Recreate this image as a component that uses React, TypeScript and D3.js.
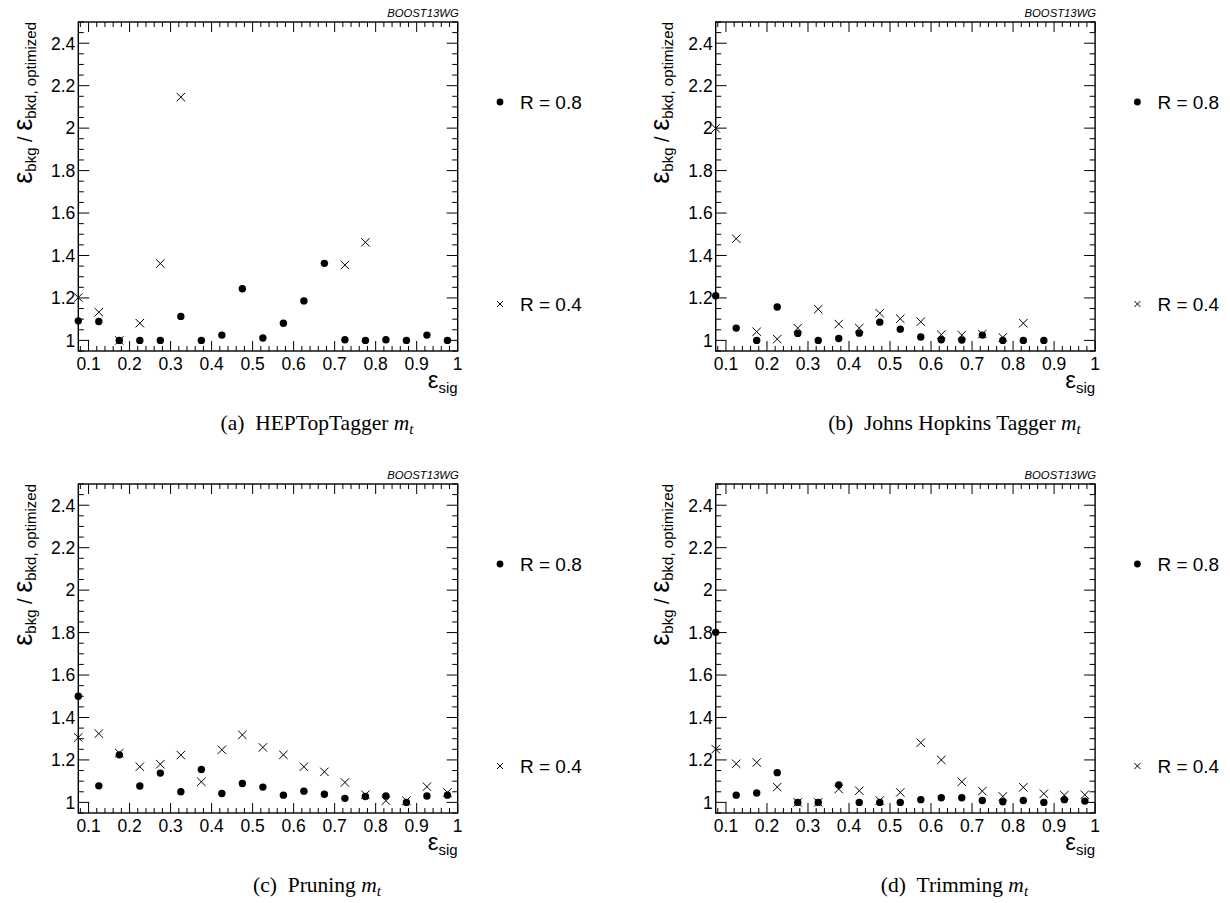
import React from 'react';
import * as d3 from 'd3';

// ---------- data ----------
const effSig = [0.075, 0.125, 0.175, 0.225, 0.275, 0.325, 0.375, 0.425, 0.475, 0.525,
  0.575, 0.625, 0.675, 0.725, 0.775, 0.825, 0.875, 0.925, 0.975];

const hepR08 = [1.092, 1.089, 1.0, 1.0, 1.0, 1.113, 1.0, 1.025, 1.243, 1.011,
  1.081, 1.186, 1.363, 1.003, 1.0, 1.003, 1.0, 1.025, 1.0];
const hepR04 = [1.202, 1.133, 1.0, 1.081, 1.362, 2.146, null, null, null, null,
  null, null, null, 1.355, 1.462, null, null, null, null];

const jhR08 = [1.21, 1.058, 1.0, 1.157, 1.033, 1.0, 1.009, 1.034, 1.086, 1.053,
  1.016, 1.003, 1.002, 1.025, 1.0, 1.0, 1.0, null, null];
const jhR04 = [1.999, 1.479, 1.041, 1.006, 1.058, 1.147, 1.077, 1.058, 1.128, 1.102,
  1.088, 1.027, 1.025, 1.03, 1.014, 1.081, null, null, null];

const pruneR08 = [1.5, 1.078, 1.224, 1.077, 1.138, 1.05, 1.155, 1.042, 1.089, 1.072,
  1.034, 1.053, 1.038, 1.019, 1.028, 1.03, 1.0, 1.03, 1.034];
const pruneR04 = [1.306, 1.324, 1.232, 1.168, 1.18, 1.223, 1.097, 1.248, 1.318, 1.259,
  1.224, 1.168, 1.144, 1.094, 1.036, 1.008, 1.008, 1.074, 1.047];

const trimR08 = [1.801, 1.034, 1.044, 1.14, 1.0, 1.0, 1.082, 1.0, 1.0, 1.0,
  1.013, 1.022, 1.022, 1.009, 1.003, 1.009, 1.0, 1.013, 1.006];
const trimR04 = [1.251, 1.182, 1.188, 1.072, 1.0, 1.0, 1.063, 1.055, 1.009, 1.047,
  1.281, 1.2, 1.097, 1.053, 1.028, 1.071, 1.041, 1.034, 1.036];

const xTicks = [0.1, 0.2, 0.3, 0.4, 0.5, 0.6, 0.7, 0.8, 0.9, 1.0];
const xTickLabels = ['0.1', '0.2', '0.3', '0.4', '0.5', '0.6', '0.7', '0.8', '0.9', '1'];
const yTicks = [1.0, 1.2, 1.4, 1.6, 1.8, 2.0, 2.2, 2.4];
const yTickLabels = ['1', '1.2', '1.4', '1.6', '1.8', '2', '2.2', '2.4'];

const legendLabels = ['R = 0.8', 'R = 0.4'];
const panelLetters = ['(a)', '(b)', '(c)', '(d)'];
const panelNames = ['HEPTopTagger', 'Johns Hopkins Tagger', 'Pruning', 'Trimming'];
const panelR08 = [hepR08, jhR08, pruneR08, trimR08];
const panelR04 = [hepR04, jhR04, pruneR04, trimR04];

// ---------- layout ----------
const W = 1230;
const H = 903;
const colOffsets = [0, 637.4];
const rowOffsets = [0, 462];
const PL = 78.3, PR = 457.7, PT = 22, PB = 351;
const SANS = "'Liberation Sans', Arial, Helvetica, sans-serif";
const SERIF = "'Liberation Serif', 'Times New Roman', Times, serif";

function Panel({ idx }: { idx: number }) {
  const ox = colOffsets[idx % 2];
  const oy = rowOffsets[Math.floor(idx / 2)];
  const left = PL + ox, right = PR + ox, top = PT + oy, bottom = PB + oy;
  const x = d3.scaleLinear().domain([0.075, 1.0]).range([left, right]);
  const y = d3.scaleLinear().domain([0.95, 2.5]).range([bottom, top]);

  const xMinor = d3.range(0.08, 1.0001, 0.02).filter(v => !xTicks.some(t => Math.abs(t - v) < 1e-6));
  const yMinor = d3.range(0.95, 2.5001, 0.05).filter(v => !yTicks.some(t => Math.abs(t - v) < 1e-6));

  const r08 = panelR08[idx];
  const r04 = panelR04[idx];
  const cs = 4.2;
  const ls = 3.4;

  return (
    <g>
      {/* ticks */}
      {xTicks.map(t => (
        <g key={'xt' + t}>
          <line x1={x(t)} x2={x(t)} y1={bottom} y2={bottom - 10} stroke="#000" strokeWidth={1} />
          <line x1={x(t)} x2={x(t)} y1={top} y2={top + 10} stroke="#000" strokeWidth={1} />
        </g>
      ))}
      {xMinor.map(t => (
        <g key={'xm' + t}>
          <line x1={x(t)} x2={x(t)} y1={bottom} y2={bottom - 5} stroke="#000" strokeWidth={1} />
          <line x1={x(t)} x2={x(t)} y1={top} y2={top + 5} stroke="#000" strokeWidth={1} />
        </g>
      ))}
      {yTicks.map(t => (
        <g key={'yt' + t}>
          <line x1={left} x2={left + 11} y1={y(t)} y2={y(t)} stroke="#000" strokeWidth={1} />
          <line x1={right} x2={right - 11} y1={y(t)} y2={y(t)} stroke="#000" strokeWidth={1} />
        </g>
      ))}
      {yMinor.map(t => (
        <g key={'ym' + t}>
          <line x1={left} x2={left + 5.5} y1={y(t)} y2={y(t)} stroke="#000" strokeWidth={1} />
          <line x1={right} x2={right - 5.5} y1={y(t)} y2={y(t)} stroke="#000" strokeWidth={1} />
        </g>
      ))}
      <rect x={left} y={top} width={right - left} height={bottom - top} fill="none" stroke="#000" strokeWidth={1.4} />

      {/* tick labels */}
      {xTicks.map((t, i) => (
        <text key={'xl' + t} x={x(t)} y={bottom + 19} textAnchor="middle" fontFamily={SANS} fontSize={17.5}>{xTickLabels[i]}</text>
      ))}
      {yTicks.map((t, i) => (
        <text key={'yl' + t} x={left - 3} y={y(t)} dy="0.36em" textAnchor="end" fontFamily={SANS} fontSize={17.5}>{yTickLabels[i]}</text>
      ))}

      {/* axis titles */}
      <text x={right} y={bottom + 37} textAnchor="end" fontFamily={SANS}>
        <tspan fontSize={24}>ε</tspan>
        <tspan fontSize={15} dy={5}>sig</tspan>
      </text>
      <text transform={`translate(${ox + 32},${top}) rotate(-90)`} textAnchor="end" fontFamily={SANS}>
        <tspan fontSize={27}>ε</tspan>
        <tspan fontSize={15} dy={4}>bkg</tspan>
        <tspan fontSize={20} dy={-4}>{'\u00a0/\u00a0'}</tspan>
        <tspan fontSize={27}>ε</tspan>
        <tspan fontSize={15} dy={4}>bkd, optimized</tspan>
      </text>
      <text x={right + 1} y={top - 5} textAnchor="end" fontFamily={SANS} fontStyle="italic" fontSize={11.3}>BOOST13WG</text>

      {/* R=0.4 crosses */}
      {r04.map((v, i) => v == null ? null : (
        <path key={'c' + i} transform={`translate(${x(effSig[i])},${y(v)})`}
          d={`M${-cs},${-cs}L${cs},${cs}M${-cs},${cs}L${cs},${-cs}`} stroke="#000" strokeWidth={1} fill="none" />
      ))}
      {/* R=0.8 dots */}
      {r08.map((v, i) => v == null ? null : (
        <circle key={'d' + i} cx={x(effSig[i])} cy={y(v)} r={3.7} fill="#000" />
      ))}

      {/* legend */}
      <circle cx={ox + 500} cy={oy + 102} r={ls} fill="#000" />
      <text x={ox + 520} y={oy + 109} fontFamily={SANS} fontSize={19}>{legendLabels[0]}</text>
      <path transform={`translate(${ox + 500},${oy + 304})`} d="M-3,-3L3,3M-3,3L3,-3" stroke="#000" strokeWidth={1} />
      <text x={ox + 520} y={oy + 311} fontFamily={SANS} fontSize={19}>{legendLabels[1]}</text>

      {/* caption */}
      <text x={ox + 317} y={oy + 430} textAnchor="middle" fontFamily={SERIF} fontSize={21.5}>
        {panelLetters[idx]}{'\u2002'}{panelNames[idx]}{' '}
        <tspan fontStyle="italic">m</tspan>
        <tspan fontStyle="italic" fontSize={15} dy={4}>t</tspan>
      </text>
    </g>
  );
}

export default function App() {
  return (
    <svg width={W} height={H} style={{ position: 'absolute', left: 0, top: 0, display: 'block', background: '#fff' }}>
      <rect width={W} height={H} fill="#fff" />
      {[0, 1, 2, 3].map(i => <Panel key={i} idx={i} />)}
    </svg>
  );
}
